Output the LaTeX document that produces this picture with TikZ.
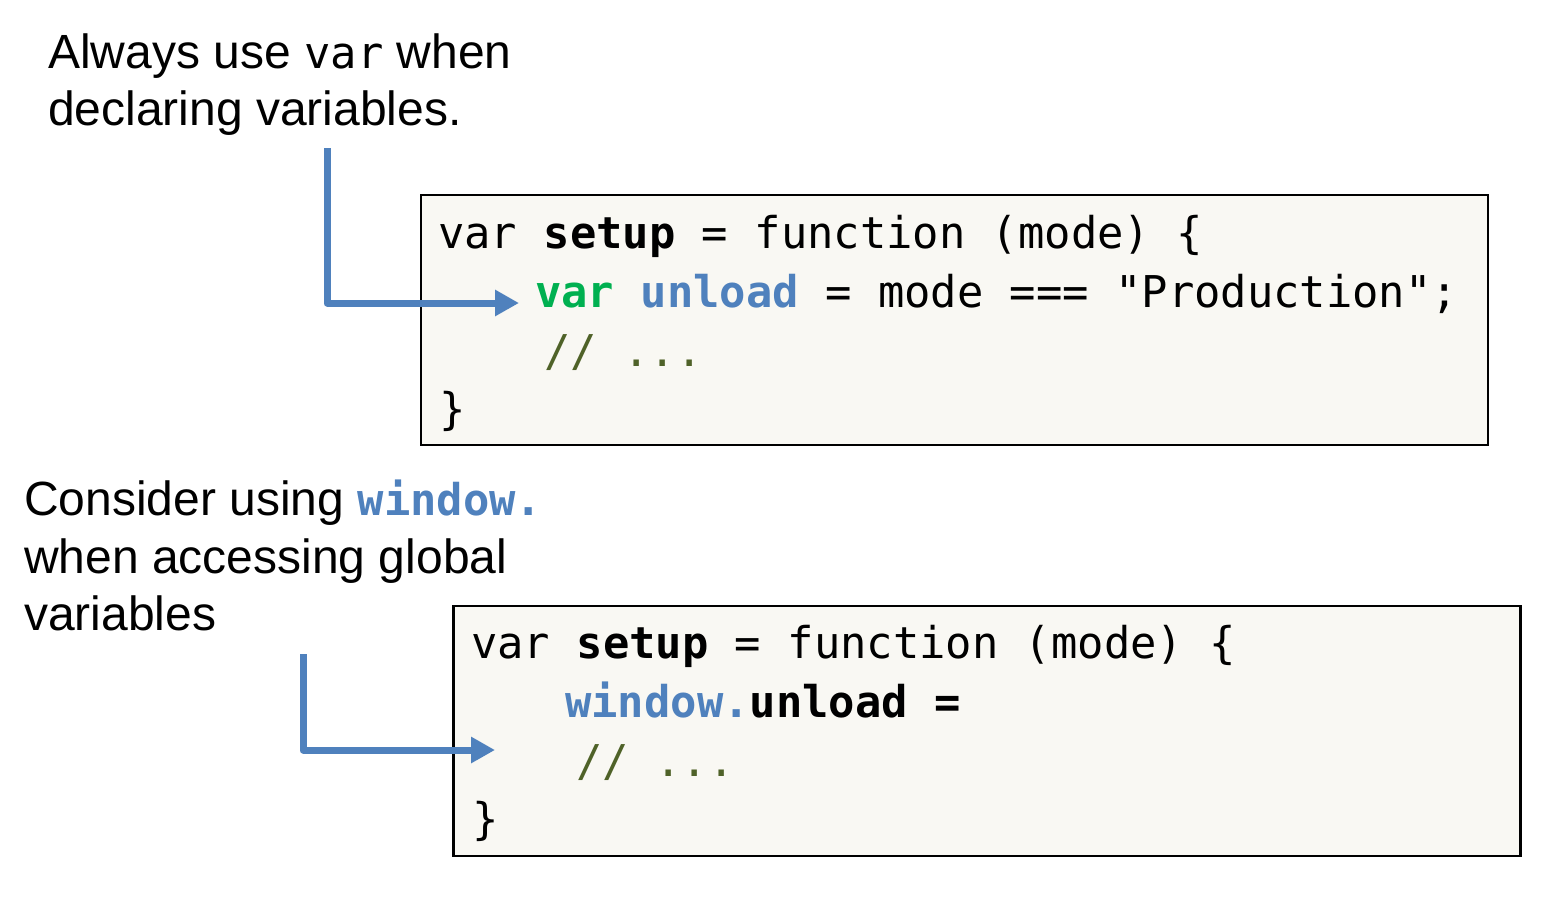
\documentclass[tikz,border=0pt]{standalone}
\usepackage{fontspec}
\setmainfont{Liberation Sans}
\newfontfamily\codefont{DejaVu Sans Mono}
\usetikzlibrary{arrows.meta}
\definecolor{accblue}{HTML}{4F81BD}
\definecolor{kwgreen}{HTML}{00B050}
\definecolor{cmtgreen}{HTML}{4F6228}
\definecolor{boxfill}{HTML}{F9F8F3}
\tikzset{
  lbl/.style={anchor=base west, inner sep=0pt, font=\fontsize{48}{57}\selectfont},
  codeline/.style={anchor=base west, inner sep=0pt, font=\codefont\fontsize{43.8}{58}\selectfont},
  codebox/.style={draw=black, line width=2.5pt, fill=boxfill, inner sep=0pt},
  callout/.style={draw=accblue, line width=7pt, line join=round,
    -{Triangle[length=24pt,width=25pt]}},
}
\newcommand{\cd}[1]{{\codefont\fontsize{43.8}{58}\selectfont #1}}
\begin{document}
\begin{tikzpicture}[x=1pt,y=-1pt]
\useasboundingbox (0,0) rectangle (1565,898);

% labels
\node[lbl] (t1a) at (48,68) {Always use \cd{var} when};
\node[lbl] (t1b) at (48,125) {declaring variables.};
\node[lbl] (t2a) at (24,515) {Consider using \textcolor{accblue}{\cd{\bfseries window.}}};
\node[lbl] (t2b) at (24,573) {when accessing global};
\node[lbl] (t2c) at (24,630) {variables};

% box 1
\node[codebox, minimum width=1067pt, minimum height=250pt] (box1) at (954.5,320) {};
\node[codeline] (b1l1) at (438,248) {var \textbf{setup} = function (mode) \{};
\node[codeline] (b1l2) at (535,307) {\textbf{\textcolor{kwgreen}{var} \textcolor{accblue}{unload}} = mode === "Production";};
\node[codeline, text=cmtgreen] (b1l3) at (544,366) {// ...};
\node[codeline] (b1l4) at (439,424) {\}};

% box 2
\node[codebox, minimum width=1067pt, minimum height=250pt] (box2) at (987,731) {};
\node[codeline] (b2l1) at (471,658) {var \textbf{setup} = function (mode) \{};
\node[codeline] (b2l2) at (565,717) {\textbf{\textcolor{accblue}{window.}unload =}};
\node[codeline, text=cmtgreen] (b2l3) at (576,776) {// ...};
\node[codeline] (b2l4) at (472,834) {\}};

% callouts
\coordinate (s1) at (327,148);
\coordinate (e1) at (519,303);
\draw[callout] (s1) |- (e1);
\coordinate (s2) at (303,654);
\coordinate (e2) at (495,750);
\draw[callout] (s2) |- (e2);
\end{tikzpicture}
\end{document}
